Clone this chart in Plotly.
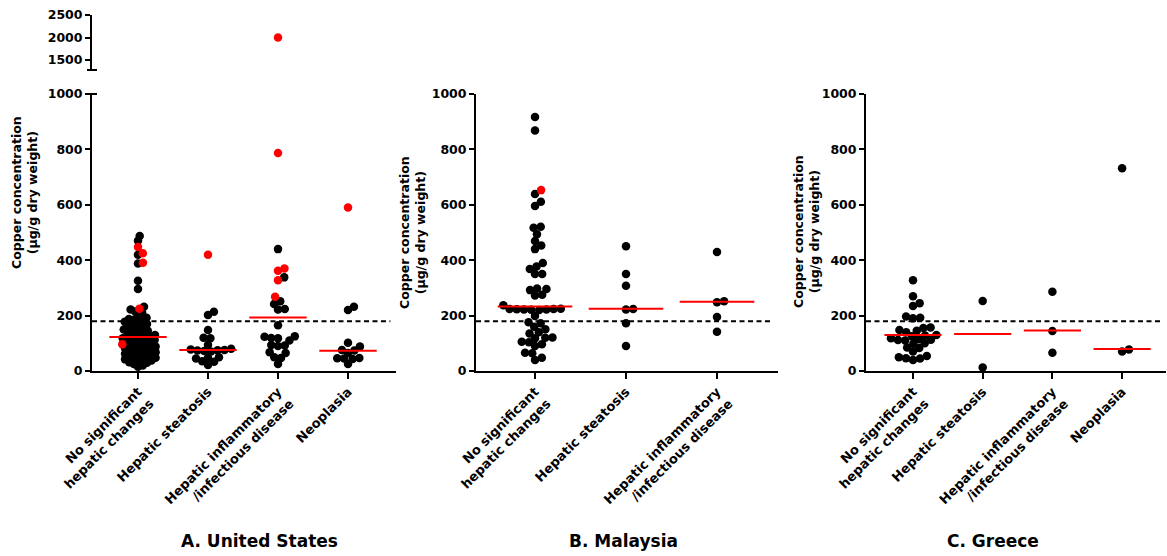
import numpy as np
import plotly.graph_objects as go

# ---------------- data (µg/g dry weight) ----------------
categories_us = ["No significant<br>hepatic changes", "Hepatic steatosis",
                 "Hepatic inflammatory<br>/infectious disease", "Neoplasia"]
categories_my = ["No significant<br>hepatic changes", "Hepatic steatosis",
                 "Hepatic inflammatory<br>/infectious disease"]
categories_gr = categories_us

us_none_black = [487, 470, 420, 388, 326, 296, 232, 222, 215, 210, 200, 192, 188, 185, 180,
                 178, 175, 170, 168, 165, 160, 155, 150, 148, 145, 140, 138, 135, 130, 128,
                 125, 122, 120, 118, 115, 112, 110, 108, 105, 100, 98, 95, 92, 90, 88, 85,
                 82, 80, 78, 75, 72, 70, 68, 65, 62, 60, 58, 55, 52, 50, 48, 45, 42, 40,
                 38, 35, 32, 30, 25, 20, 15]
us_none_red = [448, 425, 391, 225, 97]
us_steat_black = [214, 202, 148, 120, 118, 95, 80, 78, 76, 75, 74, 72, 70, 50, 48, 45, 35, 33, 22]
us_steat_red = [420]
us_infl_black = [440, 338, 252, 242, 224, 222, 165, 125, 124, 119, 118, 110, 94, 92, 90,
                 68, 65, 50, 47, 25]
us_infl_red = [2000, 787, 370, 362, 328, 268]
us_neo_black = [232, 220, 102, 88, 76, 74, 65, 47, 46, 45, 43, 25]
us_neo_red = [590]
us_medians = [123, 76, 193, 73]

my_none_black = [917, 868, 639, 611, 596, 521, 517, 494, 469, 453, 440, 390, 377, 368, 350,
                 350, 298, 296, 292, 275, 273, 237, 225, 224, 224, 223, 222, 222, 221, 220,
                 199, 176, 172, 160, 151, 140, 135, 121, 120, 118, 106, 104, 97, 90, 66, 64,
                 48, 40]
my_none_red = [653]
my_steat_black = [450, 350, 308, 224, 222, 172, 90]
my_steat_red = []
my_infl_black = [430, 252, 248, 195, 142]
my_infl_red = []
my_medians = [233, 225, 250]

gr_none_black = [328, 270, 245, 235, 197, 192, 190, 157, 155, 148, 145, 140, 130, 128, 125,
                 118, 115, 113, 112, 110, 100, 98, 85, 83, 70, 54, 50, 46, 45, 40]
gr_none_red = []
gr_steat_black = [253, 13]
gr_steat_red = []
gr_infl_black = [286, 144, 66]
gr_infl_red = []
gr_neo_black = [732, 78, 70]
gr_neo_red = []
gr_medians = [130, 134, 146, 79]

threshold = 180

# ---------------- styling / layout ----------------
W, H = 1167, 556
FONT = "DejaVu Sans, Liberation Sans, Arial, sans-serif"
RED = "#ff0000"
PX_PER_UNIT_Y = 277 / 1000.0


def py(p):  # pixel-y -> paper
    return 1 - p / H


def px(p):  # pixel-x -> paper
    return p / W


def swarm(vals, diam):
    """Beeswarm offsets (pixels) so that markers do not overlap."""
    ys = np.asarray(vals, float) * PX_PER_UNIT_Y
    order = np.argsort(ys)
    xs = np.zeros(len(ys))
    placed = []
    for i in order:
        y = ys[i]
        cands = [0.0]
        for xj, yj in placed:
            dy = y - yj
            if abs(dy) < diam:
                dx = np.sqrt(diam * diam - dy * dy)
                cands += [xj + dx, xj - dx]
        cands.sort(key=abs)
        for c in cands:
            if all((c - xj) ** 2 + (y - yj) ** 2 >= diam * diam - 1e-6 for xj, yj in placed):
                xs[i] = c
                break
        placed.append((xs[i], y))
    return xs


panels = [
    dict(name="us", groups=[(us_none_black, us_none_red), (us_steat_black, us_steat_red),
                            (us_infl_black, us_infl_red), (us_neo_black, us_neo_red)],
         medians=us_medians, cats=categories_us, dom=(92, 396), ticks_px=70.0,
         tick0=138, diam=[5.0, 6.8, 6.8, 6.8], xa="x", ya="y"),
    dict(name="my", groups=[(my_none_black, my_none_red), (my_steat_black, my_steat_red),
                            (my_infl_black, my_infl_red)],
         medians=my_medians, cats=categories_my, dom=(476, 778), ticks_px=91.0,
         tick0=535, diam=[7.2, 7.2, 7.2], xa="x2", ya="y2"),
    dict(name="gr", groups=[(gr_none_black, gr_none_red), (gr_steat_black, gr_steat_red),
                            (gr_infl_black, gr_infl_red), (gr_neo_black, gr_neo_red)],
         medians=gr_medians, cats=categories_gr, dom=(866, 1166), ticks_px=69.7,
         tick0=913, diam=[7.2, 7.2, 7.2, 7.2], xa="x3", ya="y3"),
]

fig = go.Figure()
layout = {}
axis_common = dict(showgrid=False, zeroline=False, showline=True, linecolor="black",
                   linewidth=2, ticks="outside", tickcolor="black", tickwidth=2,
                   automargin=False,
                   tickfont=dict(family=FONT, size=12.5, color="black", weight="bold"))

for k, p in enumerate(panels):
    n = len(p["groups"])
    x0 = -(p["tick0"] - p["dom"][0]) / p["ticks_px"]
    x1 = (n - 1) + (p["dom"][1] - (p["tick0"] + (n - 1) * p["ticks_px"])) / p["ticks_px"]
    bx, by, rx, ry = [], [], [], []
    ux, uy = [], []  # upper broken segment (US only)
    for gi, (blk, red) in enumerate(p["groups"]):
        allv = list(blk) + list(red)
        low = [v for v in allv if v <= 1000]
        offs = swarm(low, p["diam"][gi]) / p["ticks_px"]
        li = 0
        for j, v in enumerate(allv):
            is_red = j >= len(blk)
            if v > 1000:
                ux.append(gi)
                uy.append(v)
                continue
            xv = gi + offs[li]
            li += 1
            if is_red:
                rx.append(xv); ry.append(v)
            else:
                bx.append(xv); by.append(v)
    fig.add_trace(go.Scatter(x=bx, y=by, mode="markers", xaxis=p["xa"], yaxis=p["ya"],
                             marker=dict(color="black", size=8.5, line=dict(width=0)),
                             cliponaxis=False, showlegend=False))
    fig.add_trace(go.Scatter(x=rx, y=ry, mode="markers", xaxis=p["xa"], yaxis=p["ya"],
                             marker=dict(color=RED, size=8.5, line=dict(width=0)),
                             cliponaxis=False, showlegend=False))
    # threshold dashed line
    fig.add_trace(go.Scatter(x=[x0, x1 - 0.08], y=[threshold, threshold], mode="lines",
                             xaxis=p["xa"], yaxis=p["ya"],
                             line=dict(color="black", width=2, dash="5px,3.5px"),
                             showlegend=False))
    # median lines
    mx, my = [], []
    for gi, m in enumerate(p["medians"]):
        mx += [gi - 0.41, gi + 0.41, None]
        my += [m, m, None]
    fig.add_trace(go.Scatter(x=mx, y=my, mode="lines", xaxis=p["xa"], yaxis=p["ya"],
                             line=dict(color=RED, width=2), showlegend=False))

    xkey = "xaxis" if k == 0 else f"xaxis{k + 1}"
    ykey = "yaxis" if k == 0 else f"yaxis{k + 1}"
    layout[xkey] = dict(axis_common, domain=[px(p["dom"][0]), px(p["dom"][1])],
                        range=[x0, x1], anchor=p["ya"], tickvals=list(range(n)),
                        ticktext=p["cats"], tickangle=-45, ticklen=6,
                        tickfont=dict(family=FONT, size=13, color="black", weight="bold"))
    layout[ykey] = dict(axis_common, domain=[py(371), py(94)], range=[0, 1000],
                        anchor=p["xa"], tickvals=[0, 200, 400, 600, 800, 1000], ticklen=5)

    if p["name"] == "us":
        fig.add_trace(go.Scatter(x=ux, y=uy, mode="markers", xaxis="x4", yaxis="y4",
                                 marker=dict(color=RED, size=8.5), cliponaxis=False,
                                 showlegend=False))
        layout["xaxis4"] = dict(domain=[px(p["dom"][0]), px(p["dom"][1])], range=[x0, x1],
                                anchor="y4", visible=False, automargin=False)
        layout["yaxis4"] = dict(axis_common, domain=[py(70), py(15)], range=[1278, 2500],
                                anchor="x4", tickvals=[1500, 2000, 2500], ticklen=5)

fig.update_layout(**layout)

# break caps on the US axis
for yy in (70, 94):
    fig.add_shape(type="line", xref="paper", yref="paper", x0=px(87), x1=px(97),
                  y0=py(yy), y1=py(yy), line=dict(color="black", width=2))

ytitle = "Copper concentration<br>(µg/g dry weight)"
for xx, yy in ((24, 193), (412, 232), (806, 232)):
    fig.add_annotation(text=ytitle, xref="paper", yref="paper", x=px(xx), y=py(yy),
                       textangle=-90, showarrow=False, xanchor="center", yanchor="middle",
                       font=dict(family=FONT, size=12.5, color="black", weight="bold"))

for txt, xx in (("A. United States", 259), ("B. Malaysia", 623), ("C. Greece", 993)):
    fig.add_annotation(text=txt, xref="paper", yref="paper", x=px(xx), y=py(541),
                       showarrow=False, xanchor="center", yanchor="middle",
                       font=dict(family=FONT, size=17, color="black", weight="bold"))

fig.update_layout(template="none", width=W, height=H, margin=dict(l=0, r=0, t=0, b=0),
                  paper_bgcolor="white", plot_bgcolor="white")

fig.write_html("out.html")
